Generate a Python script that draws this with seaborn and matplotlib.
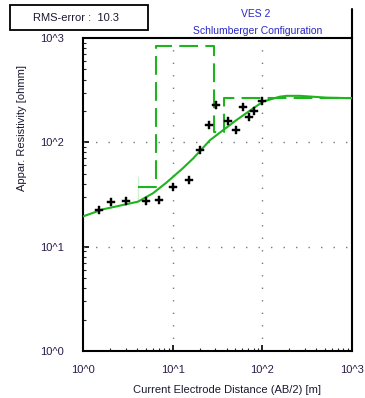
import matplotlib
matplotlib.use("Agg")
import matplotlib.pyplot as plt
import seaborn as sns
import pandas as pd
from matplotlib.lines import Line2D
from matplotlib.patches import Rectangle

# ---- data ----
obs_ab2 = [1.52, 2.04, 3.04, 5.04, 7.03, 10.2, 15.2, 20.3, 25.2, 30.2, 41, 50.4, 60.3, 70.3, 81.3, 99.8]
obs_rho = [22.3, 27, 27.6, 27.6, 28.2, 37.6, 43.6, 84.6, 148, 227, 160, 131, 217, 176, 201, 250]

fit_ab2 = [1.0, 1.67, 2.79, 4.10, 6.03, 8.49, 13.0, 17.0, 26.1, 36.6, 51.7, 79.2, 102, 157, 187, 262, 521, 1000]
fit_rho = [19.5, 22.8, 25.1, 27.0, 32.5, 41.0, 56.5, 70.4, 105, 131, 164, 212, 246, 274, 279, 279, 268, 265]

model_depth = [4.07, 4.07, 6.46, 28.9, 37.3, 1000]
model_rho = [27, 48, 846, 125, 267, 267]

x_ticks = [1, 10, 100, 1000]
x_ticklabels = ["10^0", "10^1", "10^2", "10^3"]
y_ticks = [1, 10, 100, 1000]
y_ticklabels = ["10^0", "10^1", "10^2", "10^3"]

rms_text = "RMS-error :  10.3"
title1 = "VES 2"
title2 = "Schlumberger Configuration"
xlabel = "Current Electrode Distance (AB/2) [m]"
ylabel = "Appar. Resistivity [ohmm]"

# ---- style ----
sns.set_style("white")
plt.rcParams["font.family"] = ["Liberation Sans", "DejaVu Sans"]

W, H = 365, 398
fig = plt.figure(figsize=(W / 100, H / 100), dpi=100)
ax = fig.add_axes([83 / W, 47 / H, 269 / W, 313 / H])

green = "#1fb31f"
df_fit = pd.DataFrame({"x": fit_ab2, "y": fit_rho})
df_mod = pd.DataFrame({"x": model_depth, "y": model_rho})
df_obs = pd.DataFrame({"x": obs_ab2, "y": obs_rho})

sns.lineplot(data=df_mod, x="x", y="y", ax=ax, color=green, lw=1.5,
             sort=False, drawstyle="steps-post", dashes=False,
             linestyle=(0, (9, 3.5)), zorder=3)
sns.lineplot(data=df_fit, x="x", y="y", ax=ax, color=green, lw=1.5,
             sort=False, zorder=4)
sns.scatterplot(data=df_obs, x="x", y="y", ax=ax, marker="P", s=36,
                color="black", edgecolor="black", linewidth=0.3, zorder=5)

ax.set_xscale("log")
ax.set_yscale("log")
ax.set_xlim(1, 1000)
ax.set_ylim(1, 1000)

tick_color = "#2a1c48"
ax.set_xticks(x_ticks)
ax.set_xticklabels(x_ticklabels, fontsize=8, color=tick_color)
ax.set_yticks(y_ticks)
ax.set_yticklabels(y_ticklabels, fontsize=8, color=tick_color)
ax.tick_params(axis="both", which="major", direction="in", length=4, width=1.2,
               colors="black", labelcolor=tick_color)
ax.tick_params(axis="x", which="major", pad=10)
ax.tick_params(axis="y", which="major", pad=14)
ax.tick_params(axis="both", which="minor", direction="in", length=2, width=0.8)
ax.tick_params(axis="x", which="both", bottom=True, top=False)
ax.tick_params(axis="y", which="both", left=True, right=False)
ax.set_xlabel("")
ax.set_ylabel("")

for s in ax.spines.values():
    s.set_color("black")
    s.set_linewidth(1.5)
    s.set_visible(True)

# dotted grid at decades
for v in [10, 100]:
    ax.axvline(v, color="#7a7a7a", lw=1.0, linestyle=(0, (1, 8)), zorder=1)
    ax.axhline(v, color="#7a7a7a", lw=1.0, linestyle=(0, (1, 8)), zorder=1)

# texts
fig.text(227 / W, 1 - 390 / H, xlabel, ha="center", va="center", fontsize=8, color="#1a1a30")
fig.text(22 / W, 1 - 128 / H, ylabel, ha="center", va="center", rotation=90, fontsize=8, color="#1a1a30")

fig.patches.append(Rectangle((10 / W, 1 - 30 / H), 138 / W, 25 / H, transform=fig.transFigure,
                             fill=False, edgecolor="black", lw=1.3))
fig.text(76 / W, 1 - 18 / H, rms_text, ha="center", va="center", fontsize=8, color="#1a1a30")
fig.text(256 / W, 1 - 14 / H, title1, ha="center", va="center", fontsize=7.5, color="#2828c8")
fig.text(258 / W, 1 - 31 / H, title2, ha="center", va="center", fontsize=7.5, color="#2828c8")
fig.lines.append(Line2D([352 / W, 352 / W], [1 - 38 / H, 1 - 9 / H], transform=fig.transFigure,
                        color="black", lw=1.5))

fig.savefig("out.png", dpi=100, facecolor="white")
